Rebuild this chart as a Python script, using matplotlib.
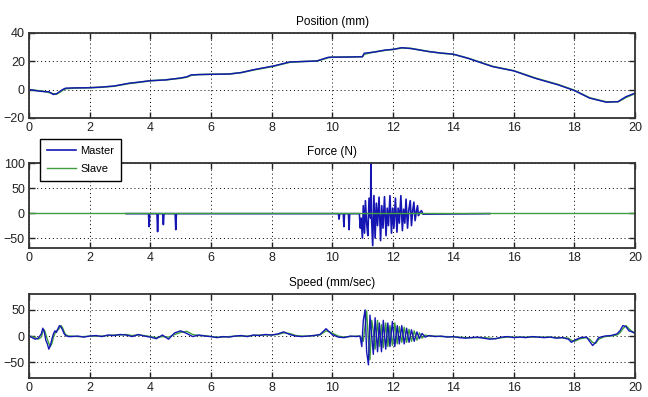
import matplotlib
matplotlib.use("Agg")
import matplotlib.pyplot as plt

plt.rcParams["font.family"] = ["Liberation Sans Narrow", "Liberation Sans", "DejaVu Sans"]

# --- data ---
pos_t = [0, 0.3, 0.5, 0.65, 0.8, 0.9, 1.0, 1.1, 1.2, 1.5, 2.0, 2.4, 2.8, 3.3, 3.6,
         4.0, 4.5, 5.0, 5.2, 5.35, 5.6, 6.0, 6.6, 7.0, 7.4, 8.07, 8.6, 9.0, 9.5,
         9.87, 10.0, 10.5, 11.0, 11.06, 11.4, 11.77, 12.0, 12.3, 12.6, 13.2, 13.6,
         14.0, 14.5, 15.3, 16.0, 16.7, 17.47, 18.0, 18.5, 19.05, 19.44, 19.7, 20.0]
pos_master = [0, -1, -1.5, -1.5, -3.5, -3, -1.5, 0, 1, 1.2, 1.3, 1.8, 2.5, 4.5, 5.2,
              6.3, 6.8, 8.2, 9.0, 10.4, 10.6, 10.8, 11.0, 12.0, 14.0, 16.7, 19.5, 19.8, 20.2,
              22.8, 22.9, 23.0, 23.2, 25.7, 26.5, 28.0, 28.3, 29.6, 29.0, 26.8, 25.8,
              25.0, 22.0, 16.2, 13.2, 8.0, 3.3, -0.7, -6.0, -8.9, -8.5, -5.0, -2.5]
pos_slave = [0, -0.8, -1.2, -2.0, -3.0, -3.2, -2.0, -0.5, 0.6, 1.1, 1.3, 1.7, 2.4, 4.3, 5.1,
             6.2, 6.9, 8.0, 8.8, 10.1, 10.6, 10.8, 11.0, 12.0, 13.8, 16.5, 19.3, 19.8, 20.2,
             22.5, 22.9, 23.0, 23.2, 25.0, 26.6, 27.8, 28.4, 29.4, 29.1, 26.9, 25.7,
             25.0, 22.1, 16.4, 13.3, 8.2, 3.5, -0.5, -5.8, -8.7, -8.6, -5.5, -2.8]

force_t = [3.2, 3.94, 3.96, 3.98, 4.22, 4.24, 4.26, 4.41, 4.43, 4.45, 4.82, 4.84, 4.86,
           10.21, 10.23, 10.25, 10.37, 10.39, 10.41, 10.54, 10.56, 10.58, 10.90,
           10.93, 10.96, 11.00, 11.03, 11.07, 11.10, 11.14, 11.18, 11.22, 11.27, 11.28,
           11.30, 11.34, 11.38, 11.42, 11.46, 11.50, 11.55, 11.60, 11.64, 11.68, 11.73,
           11.78, 11.82, 11.86, 11.91, 11.96, 12.00, 12.04, 12.09, 12.14, 12.18, 12.22,
           12.27, 12.32, 12.36, 12.40, 12.44, 12.49, 12.53, 12.58, 12.62, 12.66, 12.70,
           12.74, 12.78, 12.82, 12.85, 12.88, 12.95, 13.0, 15.2]
force_master = [-1, -1, -27, -1, -1, -37, -1, -1, -23, -1, -1, -33, -1,
                -1, -12, -1, -1, -27, -1, -1, -33, -1, -1,
                -30, -10, -50, 15, -40, 25, -20, -45, 30, -10, 100,
                -5, -65, 35, -50, 20, -25, 32, -55, 15, -30, 33,
                -45, 10, -25, 35, -40, 10, -30, 30, -38, 10, -20,
                35, -35, 8, -20, 28, -30, 5, 25, -25, 5, 22,
                -15, 3, 15, -5, 0, 5, -2, -1]
force_slave_t = [0, 20]
force_slave = [0, 0]

speed_t = [0.0, 0.1, 0.2, 0.3, 0.4, 0.45, 0.5, 0.55, 0.6, 0.65, 0.7, 0.75, 0.8, 0.85,
           0.9, 0.95, 1.0, 1.05, 1.1, 1.15, 1.2, 1.3,
           1.4, 1.6, 1.8, 2.0, 2.2, 2.4, 2.6, 2.8, 3.0, 3.2, 3.4, 3.6, 3.8, 4.0, 4.2,
           4.4, 4.6, 4.8, 5.0, 5.2, 5.4, 5.6, 5.8, 6.0, 6.2, 6.4, 6.6, 6.8, 7.0, 7.2,
           7.4, 7.6, 7.8, 8.0, 8.2, 8.4, 8.6, 8.8, 9.0, 9.2, 9.4, 9.6, 9.8, 10.0, 10.2,
           10.4, 10.6, 10.8,
           10.92, 10.98, 11.03, 11.09, 11.14, 11.20, 11.25, 11.31, 11.36, 11.42, 11.50,
           11.56, 11.63, 11.69, 11.77, 11.84, 11.91, 11.99, 12.07, 12.15, 12.22, 12.30,
           12.38, 12.46, 12.54, 12.62, 12.71, 12.80, 12.88, 12.97, 13.07,
           13.2, 13.4, 13.6, 13.8, 14.0, 14.2, 14.4, 14.6, 14.8, 15.0, 15.2, 15.4, 15.6,
           15.8, 16.0, 16.2, 16.4, 16.6, 16.8, 17.0, 17.2, 17.4, 17.6, 17.8, 17.9, 18.0,
           18.2, 18.4, 18.5, 18.6, 18.7, 18.8, 19.0, 19.2, 19.4, 19.5, 19.6, 19.7, 19.8,
           19.9, 20.0]
speed_master = [0, -3, -6, -4, 4, 15, 8, -8, -15, -25, -18, -6, 4, 10,
                7, 14, 20, 18, 12, 5, 1, -1,
                -1, 0, -2, 0, 1, -1, 2, 1, 3, 2, -1, 3, 0, -2, -5,
                2, -6, 6, 10, 5, -1, 2, 0, -1, -3, -1, -2, 0, 1, -1,
                2, 1, 3, 2, 4, 8, 3, 0, -1, 0, 1, 3, 14, 3, -2,
                -3, 0, -1,
                0, -20, 30, 50, -30, -55, 40, 0, -35, 35, -30,
                25, -30, 30, -25, 25, -20, 28, -20, 20, -15, 20,
                -15, 15, -12, 12, -10, 8, -5, 5, -2,
                1, -1, 0, -2, -1, -3, -4, -3, -2, -4, -6, -5, -2,
                -1, -3, -2, -3, -1, -2, -3, -2, -4, -3, -6, -12, -8,
                -3, -2, -10, -18, -12, -3, 0, 1, 4, 10, 20, 18, 10,
                8, 5]
speed_slave = [0, -1, -3, -6, -2, 8, 12, 3, -6, -14, -20, -14, -3, 5,
               10, 12, 15, 20, 16, 9, 3, 0,
               0, -1, -1, 0, 0, 0, 1, 2, 2, 3, 1, 2, 1, -1, -3,
               -1, -2, 3, 7, 9, 3, 1, 1, -1, -2, -2, -1, 0, 0, 0,
               1, 2, 2, 2, 3, 6, 5, 1, 0, 0, 1, 2, 10, 6, 0,
               -2, -1, 0,
               0, -5, -10, 20, 48, -10, -45, 30, 10, -25, 30,
               -20, 22, -22, 25, -20, 20, -18, 25, -15, 18, -12,
               17, -12, 13, -10, 10, -8, 6, -4, 2,
               0, 0, -1, -1, -2, -2, -3, -3, -3, -3, -4, -5, -3,
               -2, -2, -2, -2, -2, -2, -2, -2, -3, -3, -4, -8, -10,
               -5, -3, -6, -12, -14, -6, -1, 0, 2, 6, 14, 20, 14,
               9, 6]

master_color = "#1515b4"
slave_color = "#3f9f3f"

fig = plt.figure(figsize=(6.48, 3.97), dpi=100)
ax_pos = fig.add_axes([0.045, 0.703, 0.935, 0.214])
ax_force = fig.add_axes([0.045, 0.375, 0.935, 0.214])
ax_speed = fig.add_axes([0.045, 0.048, 0.935, 0.211])


def matlab_style(ax, title, ylim, yticks):
    ax.set_xlim(0, 20)
    ax.set_ylim(*ylim)
    ax.set_xticks(range(0, 21, 2))
    ax.set_yticks(yticks)
    ax.grid(True, color="black", linestyle=(0, (1, 3)), linewidth=0.7)
    ax.tick_params(direction="in", length=4, width=1, top=True, right=True,
                   labelsize=9, pad=3, colors="#222222")
    for s in ax.spines.values():
        s.set_linewidth(1.3)
        s.set_color("#333333")
    ax.set_title(title, fontsize=8.5, pad=6)


# Position
ax_pos.plot(pos_t, pos_slave, color=slave_color, linewidth=1.2)
ax_pos.plot(pos_t, pos_master, color=master_color, linewidth=1.0)
matlab_style(ax_pos, "Position (mm)", (-20, 40), [-20, 0, 20, 40])

# Force
ax_force.plot(force_t, force_master, color=master_color, linewidth=1.2, label="Master")
ax_force.plot(force_slave_t, force_slave, color=slave_color, linewidth=1.0, label="Slave")
matlab_style(ax_force, "Force (N)", (-70, 100), [-50, 0, 50, 100])
leg = ax_force.legend(loc="upper left", bbox_to_anchor=(40 / 648, 1 - 139 / 397),
                      bbox_transform=fig.transFigure, borderaxespad=0, fontsize=8,
                      frameon=True, fancybox=False, framealpha=1, edgecolor="black",
                      handlelength=2.6, handletextpad=0.4, borderpad=0.6,
                      labelspacing=0.75)
leg.get_frame().set_linewidth(1.0)
leg.set_zorder(10)

# Speed
ax_speed.plot(speed_t, speed_slave, color=slave_color, linewidth=1.0)
ax_speed.plot(speed_t, speed_master, color=master_color, linewidth=1.0)
matlab_style(ax_speed, "Speed (mm/sec)", (-80, 80), [-50, 0, 50])

fig.savefig("out.png", dpi=100)
